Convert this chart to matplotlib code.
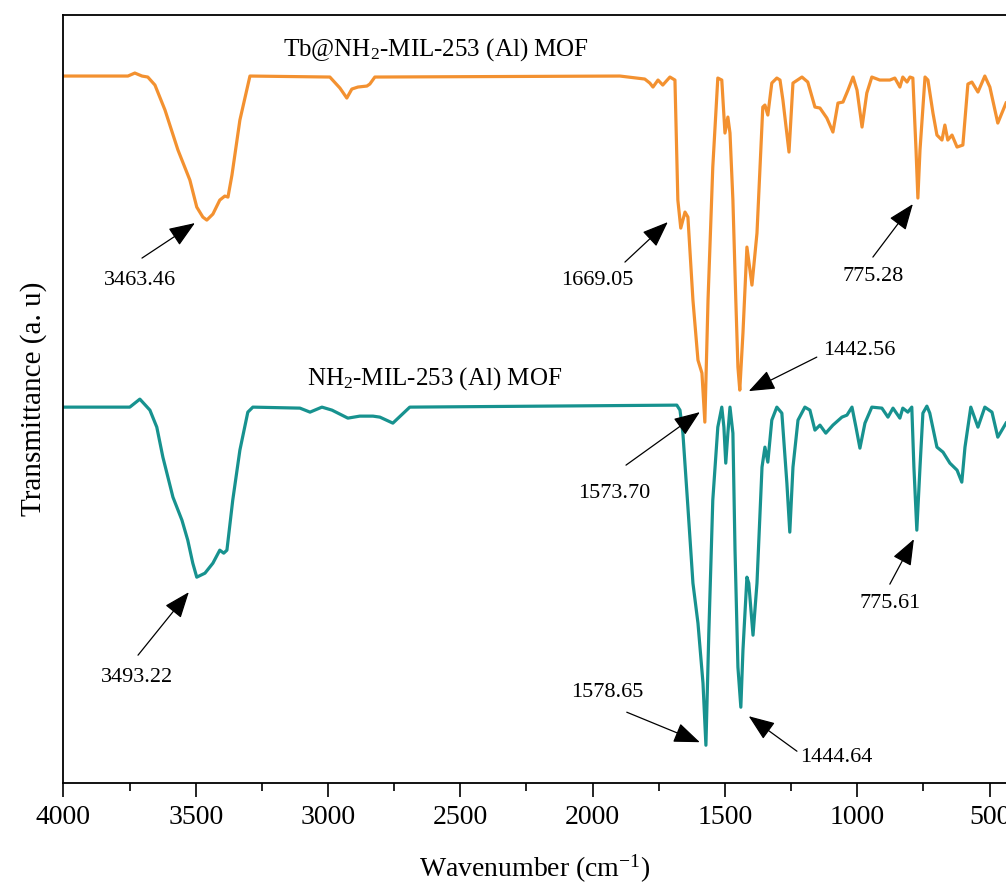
import matplotlib
matplotlib.use('Agg')
import matplotlib.pyplot as plt
from matplotlib.ticker import MultipleLocator

plt.rcParams['font.family'] = ['Liberation Serif', 'DejaVu Serif']
plt.rcParams['mathtext.fontset'] = 'custom'
plt.rcParams['mathtext.rm'] = 'Liberation Serif'
plt.rcParams['mathtext.it'] = 'Liberation Serif:italic'

# Tb@NH2-MIL-253 (Al) MOF (y in arbitrary units)
tb_wn = [4000, 3756, 3730, 3703, 3681, 3654, 3616, 3567, 3522, 3496, 3473, 3458, 3435, 3409,
         3390, 3378, 3363, 3333, 3295, 2993, 2955, 2929, 2910, 2887, 2853, 2842, 2823, 1897,
         1803, 1784, 1772, 1753, 1735, 1708, 1689, 1678, 1667, 1651, 1640, 1621, 1602, 1587,
         1576, 1564, 1546, 1527, 1512, 1500, 1489, 1481, 1470, 1459, 1451, 1444, 1432, 1417,
         1398, 1379, 1357, 1349, 1338, 1323, 1304, 1292, 1281, 1258, 1243, 1209, 1187, 1160,
         1141, 1115, 1092, 1073, 1054, 1035, 1016, 1001, 982, 964, 945, 915, 877, 858, 839,
         828, 812, 801, 790, 778, 771, 763, 744, 733, 714, 699, 680, 669, 658, 642, 623, 601,
         582, 567, 544, 518, 499, 469, 438]
tb_t = [707, 707, 710, 707, 706, 698, 673, 633, 603, 576, 566, 563, 569, 583,
        587, 586, 608, 663, 707, 706, 695, 685, 694, 696, 697, 699, 706, 707,
        704, 700, 696, 703, 698, 706, 703, 583, 555, 571, 566, 483, 423, 410,
        361, 483, 616, 705, 703, 650, 666, 650, 583, 483, 416, 393, 450, 536,
        498, 550, 676, 678, 668, 700, 705, 703, 683, 631, 700, 706, 701, 676,
        675, 665, 651, 680, 681, 693, 706, 693, 656, 690, 706, 703, 703, 705, 696,
        706, 701, 706, 705, 633, 585, 633, 706, 703, 670, 648, 643, 658, 643, 648, 636, 638,
        699, 701, 691, 707, 696, 660, 680]

# NH2-MIL-253 (Al) MOF
nh_wn = [4000, 3749, 3711, 3673, 3647, 3624, 3586, 3552, 3530, 3511, 3496, 3465, 3435, 3409,
         3394, 3382, 3360, 3333, 3303, 3284, 3106, 3068, 3023, 2985, 2925, 2880, 2830, 2804,
         2755, 2691, 1682, 1670, 1659, 1640, 1621, 1602, 1583, 1572, 1561, 1546, 1527, 1512,
         1504, 1497, 1489, 1481, 1470, 1462, 1451, 1440, 1432, 1417, 1410, 1394, 1379, 1360,
         1349, 1338, 1323, 1304, 1285, 1266, 1255, 1243, 1224, 1198, 1179, 1160, 1141, 1119,
         1092, 1058, 1039, 1020, 1005, 990, 971, 945, 907, 884, 865, 839, 828, 809, 794, 786,
         775, 763, 752, 737, 726, 699, 676, 650, 623, 605, 593, 571, 544, 518, 491, 469, 438]
nh_t = [376, 376, 384, 373, 356, 326, 286, 263, 243, 220, 206, 210, 220, 233,
        230, 233, 283, 333, 371, 376, 375, 371, 376, 373, 365, 367, 367, 366,
        360, 376, 378, 373, 350, 276, 200, 160, 100, 38, 150, 283, 356, 376,
        356, 320, 350, 376, 350, 233, 116, 76, 133, 206, 200, 148, 200, 316,
        336, 321, 363, 376, 370, 300, 251, 316, 363, 376, 373, 353, 358, 350,
        358, 366, 368, 376, 356, 335, 360, 376, 375, 366, 375, 365, 375, 371, 376, 316,
        253, 316, 370, 377, 370, 336, 331, 320, 313, 301, 336, 376, 356, 376, 371, 346, 360]

# peak labels: text, text position, arrow tail, arrow tip
peak_labels = ['3463.46', '1669.05', '775.28', '1442.56', '1573.70',
               '775.61', '1578.65', '1444.64', '3493.22']
label_xy = [(3711, 503), (1984, 503), (941, 507), (994, 433), (1920, 290),
            (877, 180), (1946, 91), (1081, 26), (3722, 106)]
tail_xy = [(3703, 525), (1878, 521), (941, 526), (1153, 426), (1874, 318),
           (877, 199), (1871, 71), (1228, 32), (3718, 128)]
tip_xy = [(3503, 560), (1716, 561), (790, 579), (1410, 392), (1595, 371),
          (786, 244), (1595, 41), (1410, 67), (3526, 191)]

fig = plt.figure(figsize=(10.06, 8.84), dpi=100)
ax = fig.add_axes([0.063, 0.114, 0.937, 0.869])

ax.plot(tb_wn, tb_t, color='#F39130', lw=2.3)
ax.plot(nh_wn, nh_t, color='#17928F', lw=2.3)

ax.text(2592, 733, 'Tb@NH$_2$-MIL-253 (Al) MOF', fontsize=18, ha='center', va='center')
ax.text(2596, 405, 'NH$_2$-MIL-253 (Al) MOF', fontsize=18, ha='center', va='center')

for lab, pos, tail, tip in zip(peak_labels, label_xy, tail_xy, tip_xy):
    ax.text(pos[0], pos[1], lab, fontsize=16, ha='center', va='center')
    ax.annotate('', xy=tip, xytext=tail,
                arrowprops=dict(arrowstyle='-|>,head_length=0.9,head_width=0.35',
                                color='black', lw=0.9, mutation_scale=18,
                                shrinkA=0, shrinkB=0))

ax.set_xlim(4000, 438)
ax.set_ylim(0, 768)
ax.set_yticks([])
ax.xaxis.set_major_locator(MultipleLocator(500))
ax.xaxis.set_minor_locator(MultipleLocator(250))
ax.tick_params(axis='x', which='major', direction='out', length=10, width=1.2,
               labelsize=20, pad=6)
ax.tick_params(axis='x', which='minor', direction='out', length=6, width=1.2)
ax.spines['right'].set_visible(False)
for s in ['top', 'left', 'bottom']:
    ax.spines[s].set_linewidth(1.3)

ax.set_xlabel('Wavenumber (cm$^{-1}$)', fontsize=20, labelpad=16)
ax.set_ylabel('Transmittance (a. u)', fontsize=21, labelpad=12)

fig.savefig('out.png', dpi=100)
